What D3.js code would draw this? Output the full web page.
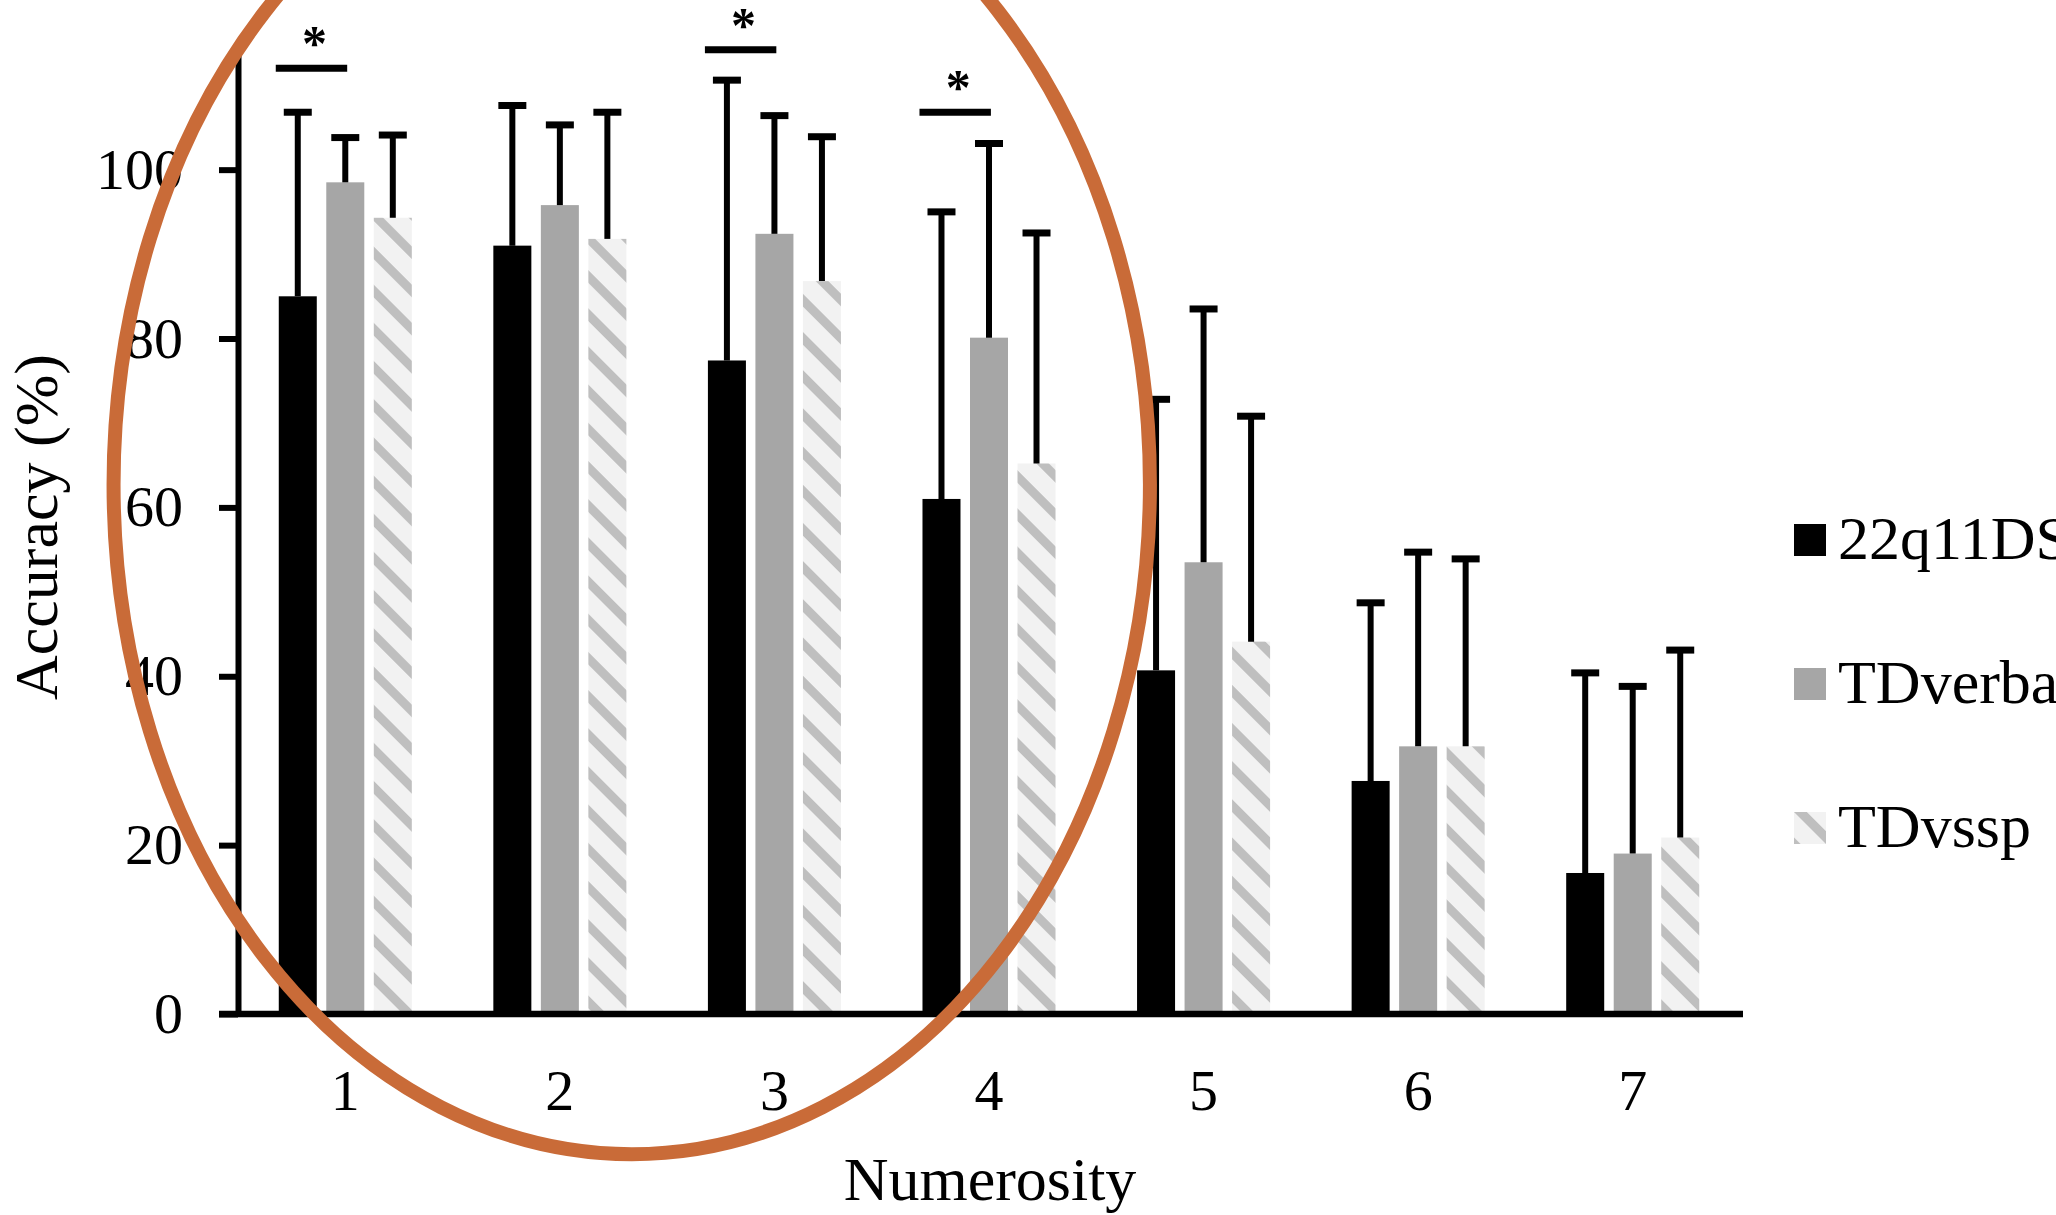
<!DOCTYPE html>
<html lang="en">
  <head>
    <meta charset="UTF-8" />
    <title>Accuracy by numerosity</title>
    <style>
      body { margin: 0; background: #fff; }
      text { font-family: "Liberation Serif", "Times New Roman", serif; fill: #000; }
    </style>
  </head>
  <body>
    <svg width="2056" height="1215" id="svg"></svg>
    <script src="https://cdn.jsdelivr.net/npm/d3@7"></script>
    <script>
      // data (mean and SD, %)
      const numerosity = [1, 2, 3, 4, 5, 6, 7];
      const series = ["22q11DS", "TDverbal", "TDvssp"];
      const mean22q = [85, 91, 77.4, 61, 40.7, 27.6, 16.7];
      const meanVerbal = [98.5, 95.8, 92.4, 80.1, 53.5, 31.7, 19.0];
      const meanVssp = [94.3, 91.8, 86.8, 65.2, 44.1, 31.7, 20.9];
      const sd22q = [21.8, 16.6, 33.2, 34, 32.1, 21.1, 23.7];
      const sdVerbal = [5.3, 9.5, 14, 23, 30, 23, 19.8];
      const sdVssp = [9.8, 15, 17.1, 27.3, 26.7, 22.2, 22.2];
      const yTicks = [0, 20, 40, 60, 80, 100];
      // significance marks: numerosity, bracket height
      const sigNum = [1, 3, 4];
      const sigY = [112, 114.2, 106.8];

      const means = [mean22q, meanVerbal, meanVssp];
      const sds = [sd22q, sdVerbal, sdVssp];
      const rows = [];
      numerosity.forEach((n, i) => {
        series.forEach((s, j) => {
          rows.push({ n, s, mean: means[j][i], sd: sds[j][i] });
        });
      });

      const svg = d3.select("#svg");
      const defs = svg.append("defs");
      const pat = defs
        .append("pattern")
        .attr("id", "hatch")
        .attr("patternUnits", "userSpaceOnUse")
        .attr("width", 27)
        .attr("height", 27)
        .attr("patternTransform", "rotate(-45)");
      pat.append("rect").attr("width", 27).attr("height", 27).attr("fill", "#f2f2f2");
      pat.append("rect").attr("width", 9).attr("height", 27).attr("fill", "#bfbfbf");

      const fill = d3.scaleOrdinal().domain(series).range(["#000000", "#a6a6a6", "url(#hatch)"]);

      const x0 = d3
        .scaleBand()
        .domain(numerosity)
        .range([238, 1740])
        .paddingInner(0.38)
        .paddingOuter(0.19);
      const x1 = d3.scaleBand().domain(series).range([0, x0.bandwidth()]).paddingInner(0.2);
      const y = d3.scaleLinear().domain([0, 115]).range([1014, 43]);

      const g = svg.append("g");

      // bars
      g.selectAll("rect.bar")
        .data(rows)
        .join("rect")
        .attr("class", "bar")
        .attr("x", (d) => x0(d.n) + x1(d.s))
        .attr("width", x1.bandwidth())
        .attr("y", (d) => y(d.mean))
        .attr("height", (d) => y(0) - y(d.mean))
        .attr("fill", (d) => fill(d.s));

      // error bars (upper only)
      const cap = 28;
      const eb = g.selectAll("g.err").data(rows).join("g").attr("class", "err");
      eb.append("line")
        .attr("x1", (d) => x0(d.n) + x1(d.s) + x1.bandwidth() / 2)
        .attr("x2", (d) => x0(d.n) + x1(d.s) + x1.bandwidth() / 2)
        .attr("y1", (d) => y(d.mean))
        .attr("y2", (d) => y(d.mean + d.sd))
        .attr("stroke", "#000")
        .attr("stroke-width", 6);
      eb.append("line")
        .attr("x1", (d) => x0(d.n) + x1(d.s) + x1.bandwidth() / 2 - cap / 2)
        .attr("x2", (d) => x0(d.n) + x1(d.s) + x1.bandwidth() / 2 + cap / 2)
        .attr("y1", (d) => y(d.mean + d.sd))
        .attr("y2", (d) => y(d.mean + d.sd))
        .attr("stroke", "#000")
        .attr("stroke-width", 7);

      // y axis
      const yAxis = g
        .append("g")
        .attr("transform", "translate(238,0)")
        .call(d3.axisLeft(y).tickValues(yTicks).tickSize(19).tickSizeOuter(0).tickPadding(36));
      yAxis.select(".domain").attr("stroke", "#000").attr("stroke-width", 6);
      yAxis.selectAll(".tick line").attr("stroke", "#000").attr("stroke-width", 6);
      yAxis.selectAll(".tick text").attr("font-size", 58).attr("font-family", "Liberation Serif");

      // x axis
      const xAxis = g
        .append("g")
        .attr("transform", "translate(0,1014)")
        .call(d3.axisBottom(x0).tickSize(0).tickPadding(55));
      xAxis.select(".domain").remove();
      xAxis.selectAll(".tick text").attr("font-size", 58).attr("font-family", "Liberation Serif");
      g.append("line")
        .attr("x1", 219)
        .attr("x2", 1743)
        .attr("y1", y(0))
        .attr("y2", y(0))
        .attr("stroke", "#000")
        .attr("stroke-width", 6.5);

      // significance brackets
      sigNum.forEach((n, i) => {
        const xa = x0(n) + x1(series[0]) - 3;
        const xb = x0(n) + x1(series[1]) + x1.bandwidth() * 0.55;
        g.append("line")
          .attr("x1", xa)
          .attr("x2", xb)
          .attr("y1", y(sigY[i]))
          .attr("y2", y(sigY[i]))
          .attr("stroke", "#000")
          .attr("stroke-width", 7);
        g.append("text")
          .attr("x", (xa + xb) / 2 + 3)
          .attr("y", y(sigY[i]) - 8)
          .attr("text-anchor", "middle")
          .attr("font-size", 50)
          .attr("font-weight", "bold")
          .text("*");
      });

      // axis titles
      g.append("text")
        .attr("transform", "translate(57,527) rotate(-90)")
        .attr("text-anchor", "middle")
        .attr("font-size", 62)
        .text("Accuracy (%)");
      g.append("text")
        .attr("x", 990)
        .attr("y", 1200)
        .attr("text-anchor", "middle")
        .attr("font-size", 62)
        .text("Numerosity");

      // legend (runs off the right edge, as in the source figure)
      const legend = g
        .selectAll("g.leg")
        .data(series)
        .join("g")
        .attr("class", "leg")
        .attr("transform", (d, i) => `translate(1794,${524 + i * 144})`);
      legend.append("rect").attr("width", 32).attr("height", 32).attr("fill", (d) => fill(d));
      legend
        .append("text")
        .attr("x", 44)
        .attr("y", 35)
        .attr("font-size", 62)
        .text((d) => d);

      // hand-drawn highlight ellipse around numerosities 1-4
      const step = x0.step();
      const ex = x0(2) + x0.bandwidth() / 2 + 0.335 * step;
      g.append("ellipse")
        .attr("cx", ex)
        .attr("cy", y(62.7))
        .attr("rx", 2.415 * step)
        .attr("ry", y(0) - y(79.3))
        .attr("fill", "none")
        .attr("stroke", "#c96b38")
        .attr("stroke-width", 14);
    </script>
  </body>
</html>
